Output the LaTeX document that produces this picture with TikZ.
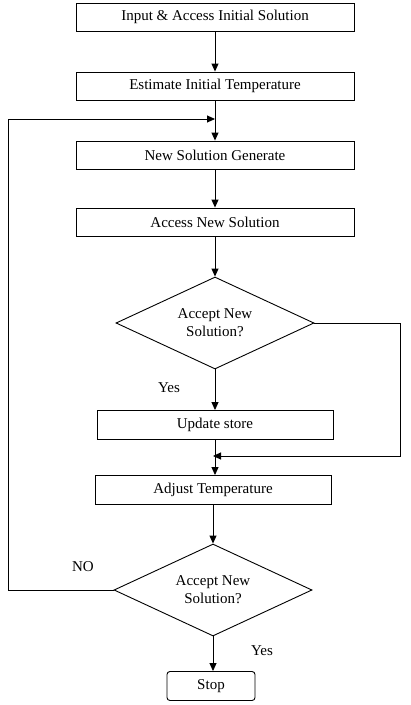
\documentclass[tikz,border=0pt]{standalone}
\usepackage{fontspec}
\setmainfont{Liberation Serif}
\usetikzlibrary{shapes.geometric,arrows.meta}

\tikzset{
  stepbox/.style={draw, line width=0.9pt, minimum width=278pt, minimum height=28pt, inner sep=0pt},
  smallbox/.style={stepbox, minimum width=236pt, minimum height=29pt},
  decide/.style={draw, diamond, aspect=2.15, line width=0.9pt, minimum width=198pt, minimum height=92pt,
    inner sep=0pt, align=center, font=\fontsize{15}{18}\selectfont},
  flow/.style={line width=0.9pt, -{Triangle[length=8pt,width=7pt]}},
}

\begin{document}
\begin{tikzpicture}[x=1pt, y=-1pt, font=\fontsize{15}{18}\selectfont]
  \useasboundingbox (0,0) rectangle (411,705);

  \node[stepbox] (input) at (215,17) {Input \& Access Initial Solution};
  \node[stepbox] (estim) at (215,86) {Estimate Initial Temperature};
  \node[stepbox] (gener) at (215,155) {New Solution Generate};
  \node[stepbox] (access) at (215,222) {Access New Solution};
  \node[decide] (accept1) at (215,323) {Accept New\\Solution?};
  \node[smallbox] (update) at (215,425) {Update store};
  \node[smallbox] (adjust) at (213,490) {Adjust Temperature};
  \node[decide] (accept2) at (213,590) {Accept New\\Solution?};
  \node[draw, line width=0.9pt, rounded corners=3pt, minimum width=88pt, minimum height=29pt,
    inner sep=0pt] (stop) at (211,686) {Stop};

  % join points of the loops
  \coordinate (join1) at (215,119);
  \coordinate (nw) at (8,119);
  \coordinate (join2) at (213,456);
  \coordinate (ne) at (400,456);

  \draw[flow] (input) -- (estim);
  \draw[flow] (estim) -- (gener);
  \draw[flow] (gener) -- (access);
  \draw[flow] (access) -- (accept1);
  \draw[flow] (accept1) -- (update.north -| accept1.south);
  \draw[flow] (update) -- (adjust.north -| update.south);
  \draw[flow] (adjust) -- (accept2);
  \draw[flow] (accept2) -- (stop.north -| accept2.south);

  \draw[flow] (accept1.east) -| (ne) -- (join2);
  \draw[flow] (accept2.west) -| (nw) -- (join1);

  \node (yes1) at (169,388) {Yes};
  \node (no) at (83,567) {NO};
  \node (yes2) at (262,651) {Yes};
\end{tikzpicture}
\end{document}
